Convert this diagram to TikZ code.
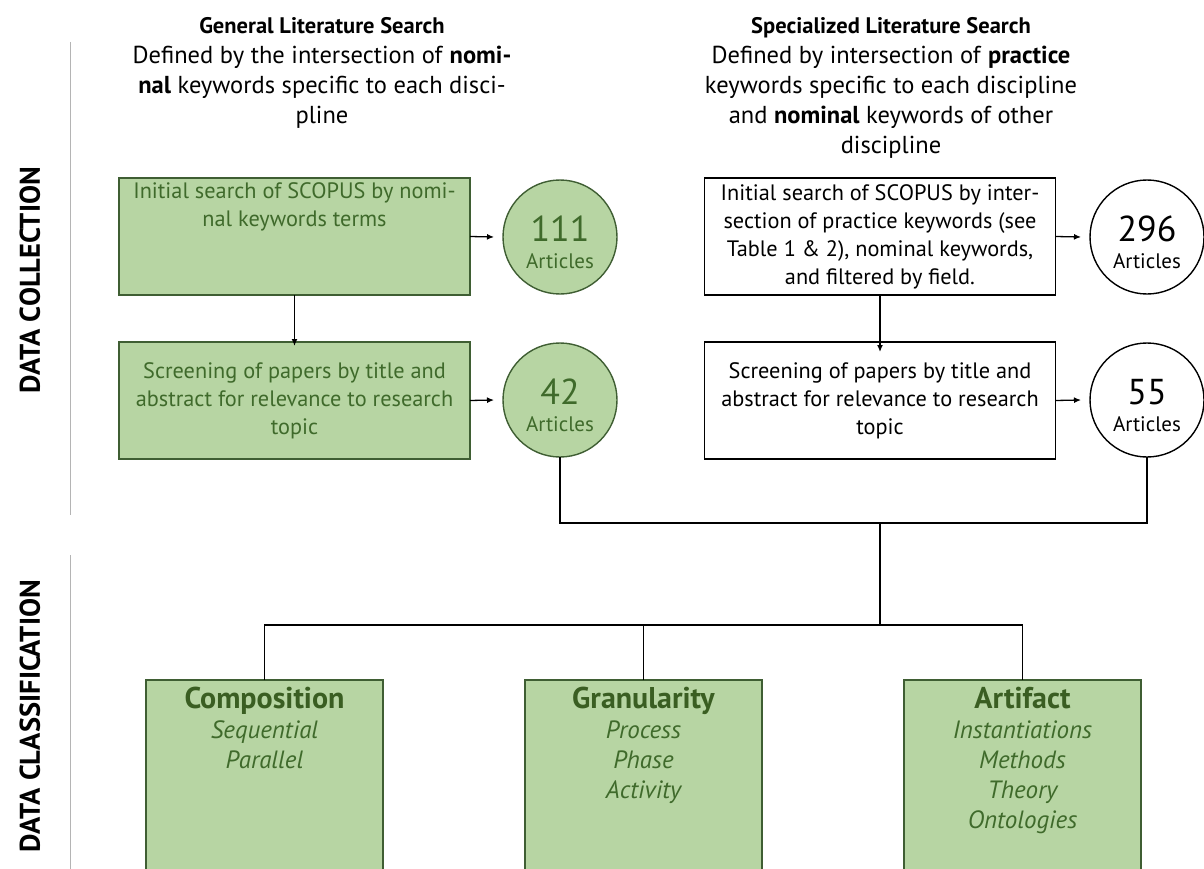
\documentclass[tikz,border=0pt]{standalone}
\usepackage{fontspec}
\setmainfont{PT Sans}
\usetikzlibrary{arrows.meta}

\definecolor{leaf}{HTML}{B7D5A3}
\definecolor{leafline}{HTML}{3F5E33}
\definecolor{leaftext}{HTML}{3F6A2B}
\definecolor{leafhead}{HTML}{3A5E22}
\definecolor{rulegray}{HTML}{B4B4B4}

\tikzset{
  every node/.style={inner sep=0pt, outer sep=0pt},
  headtext/.style={align=center, font=\fontsize{24.5}{30}\selectfont},
  sidelabel/.style={rotate=90, font=\fontsize{28.5}{30}\selectfont\bfseries},
  greenbox/.style={draw=leafline, fill=leaf, line width=1.4pt, minimum width=351pt,
    minimum height=117pt, align=center, text=leaftext, font=\fontsize{22.3}{28}\selectfont},
  whitebox/.style={draw=black, fill=white, line width=1.4pt, minimum width=351pt,
    minimum height=117pt, align=center, font=\fontsize{22.3}{28}\selectfont},
  greencirc/.style={circle, draw=leafline, fill=leaf, line width=1.4pt, minimum size=114pt,
    align=center, text=leaftext, font=\fontsize{21}{27}\selectfont},
  whitecirc/.style={circle, draw=black, fill=white, line width=1.4pt, minimum size=114pt,
    align=center, font=\fontsize{21}{27}\selectfont},
  classbox/.style={draw=leafline, fill=leaf, line width=1.4pt, minimum width=237pt,
    minimum height=220pt, anchor=north},
  classtext/.style={align=center, anchor=north, text=leaftext,
    font=\fontsize{25}{30}\selectfont\itshape},
  flow/.style={line width=1.3pt, -{Latex[length=7pt,width=6pt]}},
  link/.style={line width=1.3pt},
}
% count in a circle: large number over the word "Articles", set a little low
\newcommand{\circtext}[1]{\rule{0pt}{36pt}{\fontsize{36}{27}\selectfont #1}\\{Articles}}
\newcommand{\classhead}[1]{{\fontsize{30}{31}\selectfont\bfseries\upshape\color{leafhead}#1}}

\begin{document}
\begin{tikzpicture}[x=1pt, y=-1pt]
  \useasboundingbox (0,0) rectangle (1204,869);
  \clip (0,0) rectangle (1204,869);

  % section labels and their rules
  \node[sidelabel] (lcollect) at (30,280) {DATA COLLECTION};
  \node[sidelabel] (lclass) at (30,716) {DATA CLASSIFICATION};
  \draw[rulegray, line width=1pt] (70,42) -- (70,515);
  \draw[rulegray, line width=1pt] (70,555) -- (70,869);

  % column headings
  \node[headtext, anchor=north] (lhead) at (322,17)
    {\textbf{\fontsize{22.5}{30}\selectfont General Literature Search}\\
     Defined by the intersection of \textbf{nomi-}\\
     \textbf{nal} keywords specific to each disci-\\
     pline};
  \node[headtext, anchor=north] (rhead) at (891,17)
    {\textbf{\fontsize{22.5}{30}\selectfont Specialized Literature Search}\\
     Defined by intersection of \textbf{practice}\\
     keywords specific to each discipline\\
     and \textbf{nominal} keywords of other\\
     discipline};

  % general search column
  \node[greenbox] (ginit) at (294.5,236.5)
    {Initial search of SCOPUS by nomi-\\nal keywords terms\\\strut\\\strut};
  \node[greencirc] (g111) at (560,237) {\circtext{111}};
  \node[greenbox] (gscreen) at (294.5,400.5)
    {Screening of papers by title and\\abstract for relevance to research\\topic};
  \node[greencirc] (g42) at (560,400) {\circtext{42}};

  % specialized search column
  \node[whitebox] (sinit) at (880,236.5)
    {Initial search of SCOPUS by inter-\\section of practice keywords (see\\Table 1 \& 2), nominal keywords,\\and filtered by field.};
  \node[whitecirc] (s296) at (1147,237) {\circtext{296}};
  \node[whitebox] (sscreen) at (880,400.5)
    {Screening of papers by title and\\abstract for relevance to research\\topic};
  \node[whitecirc] (s55) at (1147,400) {\circtext{55}};

  \draw[flow] (ginit.east) -- ([xshift=-9pt]g111.west);
  \draw[flow] (gscreen.east) -- ([xshift=-9pt]g42.west);
  \draw[flow] (sinit.east) -- ([xshift=-9pt]s296.west);
  \draw[flow] (sscreen.east) -- ([xshift=-9pt]s55.west);
  \draw[flow] (ginit.south) -- ([yshift=-4pt]gscreen.north);
  \draw[flow] (sinit.south) -- ([yshift=-10pt]sscreen.north);

  % classification boxes
  \node[classbox] (comp) at (264.5,680) {};
  \node[classbox] (gran) at (643.5,680) {};
  \node[classbox] (arti) at (1022.5,680) {};
  \node[classtext] (comptxt) at ([yshift=-7pt]comp.north)
    {\classhead{Composition}\\Sequential\\Parallel};
  \node[classtext] (grantxt) at ([yshift=-7pt]gran.north)
    {\classhead{Granularity}\\Process\\Phase\\Activity};
  \node[classtext] (artitxt) at ([yshift=-7pt]arti.north)
    {\classhead{Artifact}\\Instantiations\\Methods\\Theory\\Ontologies};

  % merging and splitting connectors
  \coordinate (merge) at (880,523);
  \coordinate (split) at (880,625);
  \draw[link] (g42.south) -- (g42.south |- merge) -- (s55.south |- merge) -- (s55.south);
  \draw[link] (merge) -- (split);
  \draw[link] (comp.north) -- (comp.north |- split) -- (arti.north |- split) -- (arti.north);
  \draw[link] (gran.north) -- (gran.north |- split);
\end{tikzpicture}
\end{document}
